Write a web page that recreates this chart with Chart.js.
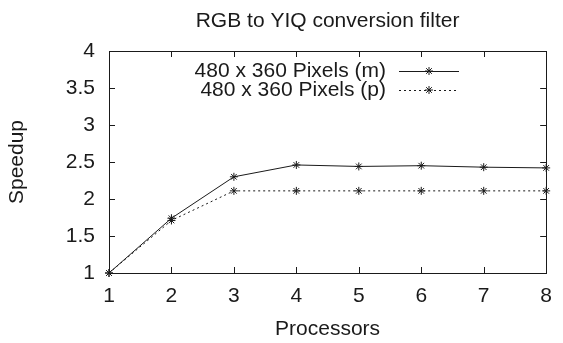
<!DOCTYPE html>
<html>
<head>
<meta charset="utf-8">
<title>RGB to YIQ conversion filter</title>
<script src="https://cdn.jsdelivr.net/npm/chart.js@4.4.1/dist/chart.umd.min.js"></script>
<style>
  html, body { margin: 0; padding: 0; background: #fff; }
  #wrap { width: 563px; height: 343px; position: relative; }
</style>
</head>
<body>
<div id="wrap"><canvas id="speedChart"></canvas></div>
<script>
// values
const chartTitle = 'RGB to YIQ conversion filter';
const processors = [1, 2, 3, 4, 5, 6, 7, 8];
const speedupM = [1, 1.74, 2.30, 2.46, 2.44, 2.45, 2.43, 2.42];
const speedupP = [1, 1.71, 2.11, 2.11, 2.11, 2.11, 2.11, 2.11];
const seriesLabels = ['480 x 360 Pixels (m)', '480 x 360 Pixels (p)'];
const yRange = [1, 4];
const yStep = 0.5;

const FONT = "'Liberation Sans', Arial, sans-serif";
const FS = 21;
const INK = '#1a1a1a';
Chart.defaults.font.family = FONT;
Chart.defaults.color = INK;

// gnuplot-like frame, inward ticks on all sides, title and key
const gnuplotFrame = {
    id: 'gnuplotFrame',
    beforeDatasetsDraw(chart) {
        const { ctx, chartArea: a, scales } = chart;
        const len = 6;
        ctx.save();
        ctx.strokeStyle = INK;
        ctx.lineWidth = 1;
        ctx.beginPath();
        scales.x.ticks.forEach(t => {
            const px = Math.round(scales.x.getPixelForValue(t.value)) + 0.5;
            ctx.moveTo(px, a.bottom); ctx.lineTo(px, a.bottom - len);
            ctx.moveTo(px, a.top); ctx.lineTo(px, a.top + len);
        });
        scales.y.ticks.forEach(t => {
            const py = Math.round(scales.y.getPixelForValue(t.value)) + 0.5;
            ctx.moveTo(a.left, py); ctx.lineTo(a.left + len, py);
            ctx.moveTo(a.right, py); ctx.lineTo(a.right - len, py);
        });
        ctx.stroke();
        ctx.strokeRect(Math.round(a.left) + 0.5, Math.round(a.top) + 0.5,
            Math.round(a.right - a.left), Math.round(a.bottom - a.top));
        ctx.restore();
    },
    afterDraw(chart) {
        const { ctx, chartArea: a } = chart;
        ctx.save();
        ctx.fillStyle = INK;
        ctx.font = FS + 'px ' + FONT;
        ctx.textAlign = 'center';
        ctx.textBaseline = 'middle';
        ctx.fillText(chartTitle, (a.left + a.right) / 2, 21);

        // key, top right inside the frame
        const textRight = 386, x0 = 399, x1 = 459;
        chart.data.datasets.forEach((ds, i) => {
            const y = 71 + i * 19;
            ctx.textAlign = 'right';
            ctx.fillText(ds.label, textRight, y);
            ctx.strokeStyle = ds.borderColor;
            ctx.lineWidth = ds.borderWidth;
            ctx.setLineDash(ds.borderDash || []);
            ctx.beginPath();
            ctx.moveTo(x0, Math.round(y) + 0.5);
            ctx.lineTo(x1, Math.round(y) + 0.5);
            ctx.stroke();
            ctx.setLineDash([]);
            Chart.helpers.drawPoint(ctx, {
                pointStyle: 'star', radius: ds.pointRadius, borderWidth: 1
            }, (x0 + x1) / 2, y);
        });
        ctx.restore();
    }
};

const ctx = document.getElementById('speedChart').getContext('2d');
new Chart(ctx, {
    type: 'line',
    data: {
        datasets: [
            {
                label: seriesLabels[0],
                data: processors.map((p, i) => ({ x: p, y: speedupM[i] })),
                borderColor: INK,
                borderWidth: 1,
                pointStyle: 'star',
                pointRadius: 4,
                pointBorderColor: INK,
                pointBorderWidth: 1,
                tension: 0,
                clip: false
            },
            {
                label: seriesLabels[1],
                data: processors.map((p, i) => ({ x: p, y: speedupP[i] })),
                borderColor: INK,
                borderWidth: 1,
                borderDash: [2, 3],
                pointStyle: 'star',
                pointRadius: 4,
                pointBorderColor: INK,
                pointBorderWidth: 1,
                tension: 0,
                clip: false
            }
        ]
    },
    options: {
        responsive: true,
        maintainAspectRatio: false,
        animation: false,
        layout: { padding: { top: 51, right: 10, left: 0, bottom: 0 } },
        plugins: {
            legend: { display: false },
            tooltip: { enabled: false },
            title: { display: false }
        },
        scales: {
            x: {
                type: 'linear',
                min: processors[0],
                max: processors[processors.length - 1],
                grid: { display: false, drawTicks: false },
                border: { display: false },
                ticks: { stepSize: 1, font: { size: FS }, padding: 11, color: INK },
                title: { display: true, text: 'Processors', font: { size: FS }, padding: { top: 0, bottom: 1 }, color: INK },
                afterFit(scale) { scale.height = 70; }
            },
            y: {
                min: yRange[0],
                max: yRange[1],
                grid: { display: false, drawTicks: false },
                border: { display: false },
                ticks: { stepSize: yStep, font: { size: FS }, padding: 14, color: INK, callback: v => String(v) },
                title: { display: true, text: 'Speedup', font: { size: FS }, padding: { top: 5, bottom: 0 }, color: INK },
                afterFit(scale) { scale.width = 109; }
            }
        }
    },
    plugins: [gnuplotFrame]
});
</script>
</body>
</html>
